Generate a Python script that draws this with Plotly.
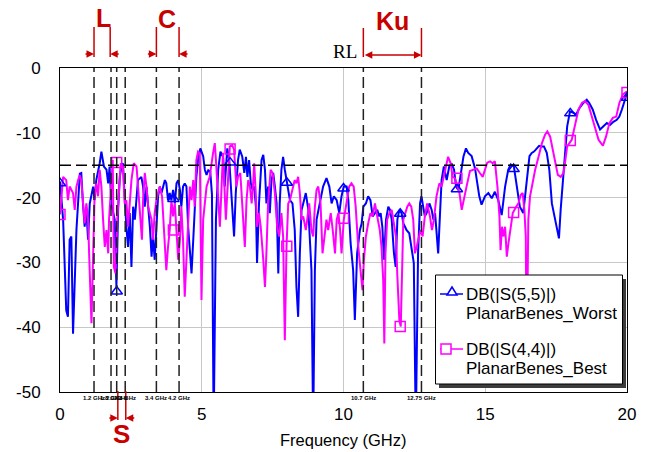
import plotly.graph_objects as go

# ---------------- data ----------------
blue_freq = [0.00, 0.11, 0.22, 0.28, 0.34, 0.40, 0.46, 0.58, 0.70, 0.75, 0.81, 0.87, 0.93, 0.99, 1.05,
             1.17, 1.22, 1.28, 1.40, 1.46, 1.55, 1.64, 1.70, 1.75, 1.81, 1.93, 1.99, 2.05, 2.11, 2.17,
             2.22, 2.28, 2.34, 2.40, 2.46, 2.52, 2.58, 2.64, 2.70, 2.75, 2.87, 2.93, 2.99, 3.05, 3.11,
             3.17, 3.23, 3.28, 3.34, 3.40, 3.46, 3.52, 3.58, 3.70, 3.75, 3.81, 3.87, 3.93, 3.99, 4.05,
             4.11, 4.17, 4.23, 4.28, 4.34, 4.40, 4.46, 4.52, 4.58, 4.64, 4.70, 4.75, 4.81, 4.87, 4.95,
             5.05, 5.11, 5.17, 5.23, 5.30, 5.36, 5.42, 5.50, 5.58, 5.66, 5.75, 5.81, 5.90, 5.97, 6.05,
             6.11, 6.14, 6.20, 6.28, 6.34, 6.43, 6.50, 6.56, 6.61, 6.67, 6.73, 6.79, 6.85, 6.91, 6.95,
             7.02, 7.11, 7.17, 7.23, 7.28, 7.34, 7.40, 7.46, 7.52, 7.58, 7.64, 7.70, 7.75, 7.81, 7.87,
             7.93, 8.01, 8.11, 8.20, 8.28, 8.34, 8.40, 8.46, 8.52, 8.58, 8.67, 8.76, 8.81, 8.87, 8.93,
             8.99, 9.05, 9.17, 9.28, 9.40, 9.50, 9.58, 9.66, 9.76, 9.85, 9.93, 10.01, 10.11, 10.17, 10.25,
             10.34, 10.40, 10.48, 10.58, 10.64, 10.70, 10.79, 10.87, 10.95, 11.03, 11.11, 11.19, 11.26, 11.31, 11.37,
             11.43, 11.50, 11.58, 11.64, 11.70, 11.78, 11.84, 11.90, 11.97, 12.05, 12.11, 12.17, 12.22, 12.32, 12.40,
             12.48, 12.55, 12.63, 12.70, 12.75, 12.81, 12.87, 12.93, 13.03, 13.11, 13.17, 13.23, 13.28, 13.34, 13.40,
             13.46, 13.54, 13.64, 13.73, 13.81, 13.90, 13.97, 14.05, 14.13, 14.23, 14.32, 14.40, 14.52, 14.64, 14.72,
             14.79, 14.87, 14.99, 15.11, 15.23, 15.34, 15.46, 15.58, 15.70, 15.81, 15.90, 16.01, 16.11, 16.22, 16.34,
             16.40, 16.48, 16.56, 16.64, 16.72, 16.82, 16.90, 16.99, 17.07, 17.17, 17.26, 17.35, 17.46, 17.55, 17.60,
             17.66, 17.73, 17.81, 17.89, 17.99, 18.11, 18.20, 18.32, 18.46, 18.58, 18.67, 18.79, 18.91, 19.05, 19.17,
             19.29, 19.40, 19.52, 19.64, 19.73, 19.82, 19.90, 20.00]
blue_db = [-17.5, -23.4, -37.4, -38.4, -26.5, -26.0, -41.0, -25.0, -16.3, -16.2, -20.9, -24.5, -21.9, -26.5, -20.9,
           -18.3, -20.4, -17.3, -14.7, -12.9, -15.2, -15.7, -17.8, -15.2, -20.9, -23.4, -33.8, -21.9, -16.8, -15.2,
           -14.7, -19.8, -24.5, -27.6, -22.4, -30.7, -21.4, -23.4, -19.8, -17.3, -16.8, -18.3, -21.4, -18.3, -21.4,
           -24.5, -29.1, -26.0, -29.6, -23.4, -19.8, -18.3, -19.3, -17.3, -17.8, -20.4, -19.3, -20.4, -18.8, -20.9,
           -17.8, -17.3, -18.8, -21.4, -18.3, -17.8, -18.3, -24.5, -28.6, -31.7, -26.5, -20.9, -16.8, -14.2, -12.4,
           -13.6, -15.7, -16.5, -15.8, -16.0, -19.5, -56.0, -23.4, -15.7, -12.9, -13.7, -18.3, -12.4, -14.2, -19.8,
           -23.4, -26.0, -19.3, -14.2, -12.6, -13.7, -16.2, -13.7, -16.8, -14.2, -17.8, -18.8, -18.3, -21.4, -30.1,
           -20.9, -14.2, -13.4, -15.7, -20.9, -18.3, -22.4, -17.3, -16.2, -18.3, -20.9, -31.7, -20.9, -15.7, -13.7,
           -15.7, -17.8, -20.4, -20.9, -25.0, -33.8, -38.4, -28.6, -21.9, -20.9, -19.3, -21.9, -26.0, -31.2, -56.0,
           -31.2, -23.4, -20.9, -18.3, -17.0, -18.3, -20.9, -19.8, -20.4, -22.4, -19.8, -18.3, -18.3, -20.4, -27.0,
           -31.2, -38.9, -28.6, -25.0, -24.0, -21.4, -20.9, -19.8, -20.4, -22.9, -22.4, -21.9, -22.9, -22.4, -24.5,
           -29.6, -23.4, -21.4, -21.9, -23.4, -28.6, -30.7, -23.4, -21.9, -22.4, -24.0, -24.5, -25.0, -25.5, -27.6,
           -30.1, -56.0, -28.6, -20.9, -19.8, -21.4, -22.9, -22.4, -20.9, -21.9, -23.4, -22.4, -25.0, -28.6, -22.9,
           -17.3, -15.2, -17.3, -15.2, -14.7, -15.7, -18.3, -18.8, -16.2, -13.7, -12.4, -13.1, -13.6, -15.5, -17.8,
           -19.8, -21.1, -19.8, -19.3, -20.1, -19.1, -20.4, -22.7, -18.3, -15.7, -14.9, -15.2, -18.3, -21.4, -22.4,
           -19.8, -16.8, -13.6, -13.1, -12.9, -12.4, -12.0, -12.1, -12.1, -13.1, -15.7, -20.9, -23.4, -25.5, -26.3,
           -21.9, -17.8, -13.1, -9.0, -6.7, -6.9, -7.2, -6.2, -5.4, -4.9, -5.4, -6.4, -8.0, -9.5, -9.0,
           -8.5, -8.8, -8.3, -8.0, -7.5, -6.4, -5.2, -3.9]

pink_freq = [0.00, 0.05, 0.11, 0.22, 0.28, 0.34, 0.46, 0.52, 0.58, 0.64, 0.70, 0.75, 0.81, 0.87, 0.93,
             0.99, 1.05, 1.11, 1.17, 1.22, 1.28, 1.34, 1.40, 1.46, 1.52, 1.58, 1.64, 1.70, 1.73, 1.79,
             1.86, 1.90, 1.96, 2.02, 2.08, 2.14, 2.22, 2.28, 2.34, 2.40, 2.52, 2.60, 2.70, 2.75, 2.81,
             2.89, 2.93, 2.99, 3.05, 3.11, 3.23, 3.28, 3.34, 3.40, 3.46, 3.52, 3.60, 3.70, 3.75, 3.81,
             3.87, 3.93, 3.99, 4.05, 4.11, 4.17, 4.23, 4.28, 4.34, 4.40, 4.46, 4.52, 4.58, 4.64, 4.70,
             4.75, 4.81, 4.87, 4.93, 4.99, 5.05, 5.17, 5.28, 5.40, 5.46, 5.50, 5.58, 5.64, 5.70, 5.75,
             5.85, 5.93, 5.99, 6.07, 6.14, 6.22, 6.28, 6.36, 6.46, 6.52, 6.58, 6.64, 6.70, 6.76, 6.82,
             6.85, 6.91, 6.95, 7.02, 7.08, 7.17, 7.23, 7.28, 7.34, 7.43, 7.50, 7.58, 7.66, 7.73, 7.81,
             7.87, 7.93, 7.99, 8.05, 8.11, 8.20, 8.28, 8.34, 8.40, 8.46, 8.52, 8.58, 8.67, 8.72, 8.79,
             8.87, 8.93, 8.99, 9.05, 9.11, 9.19, 9.26, 9.34, 9.40, 9.46, 9.55, 9.62, 9.70, 9.76, 9.82,
             9.88, 9.93, 10.01, 10.11, 10.20, 10.28, 10.36, 10.43, 10.51, 10.60, 10.67, 10.72, 10.79, 10.87, 10.95,
             11.03, 11.11, 11.19, 11.28, 11.34, 11.40, 11.44, 11.48, 11.54, 11.62, 11.70, 11.78, 11.85, 11.90, 11.97,
             12.02, 12.07, 12.11, 12.18, 12.25, 12.32, 12.39, 12.46, 12.52, 12.58, 12.65, 12.72, 12.79, 12.87, 12.95,
             13.05, 13.12, 13.19, 13.28, 13.38, 13.46, 13.54, 13.61, 13.69, 13.78, 13.85, 13.93, 14.09, 14.17, 14.25,
             14.34, 14.46, 14.58, 14.70, 14.81, 14.91, 14.99, 15.07, 15.17, 15.26, 15.34, 15.43, 15.50, 15.54, 15.59,
             15.64, 15.70, 15.76, 15.82, 15.87, 15.97, 16.09, 16.17, 16.25, 16.32, 16.38, 16.43, 16.46, 16.52, 16.58,
             16.68, 16.76, 16.88, 17.00, 17.11, 17.19, 17.29, 17.38, 17.48, 17.56, 17.66, 17.76, 17.81, 17.89, 18.05,
             18.17, 18.29, 18.41, 18.52, 18.64, 18.76, 18.88, 19.00, 19.15, 19.26, 19.38, 19.50, 19.62, 19.73, 19.85,
             20.00]
pink_db = [-22.6, -20.0, -16.8, -17.3, -20.4, -18.3, -19.3, -21.9, -18.3, -17.3, -16.5, -17.3, -20.9, -24.0, -20.9,
           -23.4, -31.7, -39.4, -28.6, -19.8, -17.8, -19.8, -15.7, -18.3, -23.4, -27.6, -25.0, -28.6, -23.4, -19.3,
           -14.2, -30.7, -31.7, -23.4, -18.3, -14.7, -15.2, -20.9, -20.4, -24.5, -17.3, -14.7, -15.2, -18.3, -22.4,
           -26.5, -20.4, -16.2, -18.3, -21.4, -23.4, -26.5, -22.4, -20.4, -19.3, -18.3, -19.8, -28.6, -31.2, -27.6,
           -25.0, -20.4, -22.9, -20.9, -25.0, -29.6, -26.5, -21.4, -26.5, -35.3, -29.6, -22.4, -18.3, -20.4, -17.3,
           -21.4, -14.2, -12.9, -13.1, -35.8, -23.4, -18.3, -16.8, -13.1, -11.6, -14.2, -20.9, -24.5, -18.3, -13.1,
           -23.4, -15.7, -12.1, -11.9, -12.6, -18.3, -16.8, -16.2, -22.4, -27.6, -20.4, -17.3, -18.3, -20.9, -17.3,
           -14.7, -19.8, -24.5, -22.4, -24.5, -29.6, -33.8, -28.6, -20.9, -15.7, -16.2, -19.3, -24.5, -26.0, -22.4,
           -26.0, -42.0, -27.6, -20.9, -20.4, -18.8, -17.3, -17.8, -16.8, -19.3, -23.4, -22.9, -25.0, -23.4, -20.9,
           -25.0, -26.0, -21.4, -18.8, -18.3, -20.9, -28.6, -25.0, -23.4, -25.0, -22.4, -25.0, -28.6, -23.4, -22.4,
           -25.0, -28.6, -23.4, -20.9, -18.3, -17.8, -18.3, -21.4, -27.0, -31.2, -34.3, -29.6, -26.0, -24.0, -22.4,
           -22.9, -20.9, -22.9, -25.0, -27.6, -32.7, -42.5, -28.6, -23.4, -22.4, -21.9, -24.5, -26.0, -32.2, -38.9,
           -39.9, -31.2, -23.4, -22.4, -21.4, -20.9, -21.4, -23.4, -28.6, -27.6, -26.0, -25.0, -26.0, -22.9, -20.9,
           -22.9, -25.0, -23.4, -19.8, -17.8, -18.3, -16.8, -15.2, -13.7, -14.7, -16.8, -17.0, -19.3, -21.9, -20.4,
           -18.3, -15.9, -15.7, -15.5, -16.2, -16.8, -15.7, -14.6, -14.4, -14.7, -14.4, -18.3, -22.9, -28.1, -24.5,
           -26.0, -24.5, -29.1, -27.0, -25.5, -22.4, -21.4, -20.9, -19.6, -19.3, -21.9, -26.0, -45.0, -23.4, -19.8,
           -17.3, -15.7, -13.7, -11.6, -10.3, -9.8, -10.6, -12.6, -14.7, -16.5, -16.8, -16.2, -14.7, -12.1, -11.1,
           -8.5, -6.4, -5.4, -5.1, -5.7, -7.5, -9.5, -11.1, -12.0, -10.6, -8.5, -7.7, -7.5, -5.4, -4.1,
           -3.6]

marker_freq = [0, 2, 4, 6, 8, 10, 12, 14, 16, 18, 20]
blue_marker_db = [-17.8, -34.5, -20.2, -14.6, -17.7, -18.6, -22.5, -18.7, -15.6, -7.0, -4.6]
pink_marker_db = [-22.6, -14.6, -25.0, -12.5, -27.5, -23.2, -39.9, -17.0, -22.3, -11.2, -3.8]

band_freqs = [1.2, 1.8, 2.0, 2.3, 3.4, 4.2, 10.7, 12.75]
band_labels = ["1.2 GHz", "1.8 GHz", "2.0 GHz", "2.3 GHz", "3.4 GHz", "4.2 GHz", "10.7 GHz", "12.75 GHz"]
rl_level = -15

x_ticks = [0, 5, 10, 15, 20]
y_ticks = [0, -10, -20, -30, -40, -50]

legend_names = [["DB(|S(5,5)|)", "PlanarBenes_Worst"], ["DB(|S(4,4)|)", "PlanarBenes_Best"]]

BLUE = "#0000ff"
PINK = "#ff00ff"
RED = "#c80000"
FONT = "Liberation Sans, Arial, sans-serif"

# ---------------- layout geometry (pixels) ----------------
W, H = 650, 452
L, R, T, B = 60, 23, 68, 60
PW, PH = W - L - R, H - T - B


def px(X):
    return (X - L) / PW


def py(Y):
    return (H - B - Y) / PH


fig = go.Figure()

fig.add_trace(go.Scatter(x=blue_freq, y=blue_db, mode="lines",
                         line=dict(color=BLUE, width=2), showlegend=False, hoverinfo="skip"))
fig.add_trace(go.Scatter(x=pink_freq, y=pink_db, mode="lines",
                         line=dict(color=PINK, width=2), showlegend=False, hoverinfo="skip"))
fig.add_trace(go.Scatter(x=marker_freq, y=blue_marker_db, mode="markers",
                         marker=dict(symbol="triangle-up-open", size=10, color=BLUE,
                                     line=dict(width=1.5, color=BLUE)),
                         showlegend=False, hoverinfo="skip"))
fig.add_trace(go.Scatter(x=marker_freq, y=pink_marker_db, mode="markers",
                         marker=dict(symbol="square-open", size=10, color=PINK,
                                     line=dict(width=1.5, color=PINK)),
                         showlegend=False, hoverinfo="skip"))

shapes = []
annotations = []

# dashed band-edge lines and RL line
for f in band_freqs:
    shapes.append(dict(type="line", xref="x", yref="paper", x0=f, x1=f, y0=0, y1=1,
                       line=dict(color="#202020", width=1.5, dash="11px,5px"), layer="above"))
shapes.append(dict(type="line", xref="paper", yref="y", x0=0, x1=1, y0=rl_level, y1=rl_level,
                   line=dict(color="#000000", width=1.5, dash="11px,5px"), layer="above"))

for f, lab in zip(band_freqs, band_labels):
    annotations.append(dict(x=f, y=py(398), xref="x", yref="paper", text="<b>" + lab + "</b>",
                            showarrow=False, font=dict(size=6, color="black", family=FONT),
                            xanchor="center", yanchor="middle"))

# red band brackets above the plot (L, C, Ku)
def vline_px(f, y_top, y_bot):
    shapes.append(dict(type="line", xref="x", yref="paper", x0=f, x1=f,
                       y0=py(y_bot), y1=py(y_top), line=dict(color=RED, width=1.5), layer="above"))


def arrow_in(f, y, dx):
    annotations.append(dict(x=f, y=py(y), xref="x", yref="paper", ax=dx, ay=0, axref="pixel",
                            ayref="pixel", text="", showarrow=True, arrowhead=2, arrowsize=1,
                            arrowwidth=1.5, arrowcolor=RED, standoff=0, startstandoff=0))


for lo, hi in [(1.2, 1.77), (3.4, 4.2)]:
    vline_px(lo, 27, 57)
    vline_px(hi, 27, 57)
    arrow_in(lo, 54, -10)
    arrow_in(hi, 54, 10)

vline_px(10.7, 28, 57)
vline_px(12.75, 28, 57)
annotations.append(dict(x=12.75, y=py(55), xref="x", yref="paper", ax=10.7, ay=0, axref="x",
                        ayref="pixel", text="", showarrow=True, arrowhead=2, arrowsize=1,
                        arrowwidth=1.5, arrowcolor=RED, arrowside="end+start",
                        standoff=0, startstandoff=0))

# S band bracket under the axis
vline_px(2.04, 391, 420)
vline_px(2.32, 391, 420)
arrow_in(2.04, 418, -10)
arrow_in(2.32, 418, 10)

for txt, X, Y, size in [("L", 103, 18, 25), ("C", 167, 19, 25), ("Ku", 392, 21, 25), ("S", 121.5, 434, 26)]:
    annotations.append(dict(x=px(X), y=py(Y), xref="paper", yref="paper", text="<b>" + txt + "</b>",
                            showarrow=False, font=dict(size=size, color=RED, family=FONT),
                            xanchor="center", yanchor="middle"))
annotations.append(dict(x=px(345), y=py(51), xref="paper", yref="paper", text="RL",
                        showarrow=False, font=dict(size=19, color="black",
                                                   family="Liberation Serif, Times New Roman, serif"),
                        xanchor="center", yanchor="middle"))

# x-axis title
annotations.append(dict(x=0.5, y=py(440), xref="paper", yref="paper", text="Frequency (GHz)",
                        showarrow=False, font=dict(size=16.5, color="black", family=FONT),
                        xanchor="center", yanchor="middle"))

# hand-drawn legend box with shadow
shapes.append(dict(type="rect", xref="paper", yref="paper", x0=px(439), x1=px(626),
                   y0=py(388), y1=py(279), fillcolor="#3c3c3c", line=dict(width=0), layer="above"))
shapes.append(dict(type="rect", xref="paper", yref="paper", x0=px(435.5), x1=px(622.5),
                   y0=py(384), y1=py(275), fillcolor="white", line=dict(color="black", width=1),
                   layer="above"))
for (names, col, ly) in [(legend_names[0], BLUE, 294), (legend_names[1], PINK, 349)]:
    shapes.append(dict(type="line", xref="paper", yref="paper", x0=px(440), x1=px(463),
                       y0=py(ly), y1=py(ly), line=dict(color=col, width=1.5), layer="above"))
    for k, name in enumerate(names):
        annotations.append(dict(x=px(464), y=py(ly + 19.5 * k), xref="paper", yref="paper",
                                text=name, showarrow=False, align="left",
                                font=dict(size=17, color="black", family=FONT),
                                xanchor="left", yanchor="middle"))
shapes.append(dict(type="path", xref="paper", yref="paper", xsizemode="pixel", ysizemode="pixel",
                   xanchor=px(452), yanchor=py(292), path="M -5,-3 L 5,-3 L 0,5 Z",
                   line=dict(color=BLUE, width=1.5), fillcolor="white", layer="above"))
shapes.append(dict(type="rect", xref="paper", yref="paper", xsizemode="pixel", ysizemode="pixel",
                   xanchor=px(446), yanchor=py(349), x0=-5, x1=5, y0=-5, y1=5,
                   line=dict(color=PINK, width=1.5), fillcolor="white", layer="above"))

fig.update_layout(
    width=W, height=H,
    margin=dict(l=L, r=R, t=T, b=B, autoexpand=False),
    paper_bgcolor="white", plot_bgcolor="white",
    font=dict(family=FONT, color="black"),
    showlegend=False,
    shapes=shapes, annotations=annotations,
    xaxis=dict(range=[0, 20], tickvals=x_ticks, ticktext=[str(v) for v in x_ticks],
               showgrid=True, gridcolor="#c8c8c8", gridwidth=1, zeroline=False,
               showline=True, linecolor="black", linewidth=1, mirror=True, ticks="",
               tickfont=dict(size=17, family=FONT), ticklabelstandoff=7),
    yaxis=dict(range=[-50, 0], tickvals=y_ticks, ticktext=[str(v) for v in y_ticks],
               showgrid=True, gridcolor="#c8c8c8", gridwidth=1, zeroline=False,
               showline=True, linecolor="black", linewidth=1, mirror=True, ticks="",
               tickfont=dict(size=17, family=FONT), ticklabelstandoff=15),
)

fig.write_html("out.html",
               config={"displayModeBar": False},
               post_script="document.body.style.margin='0';document.body.style.padding='0';"
                           "document.documentElement.style.overflow='hidden';")
